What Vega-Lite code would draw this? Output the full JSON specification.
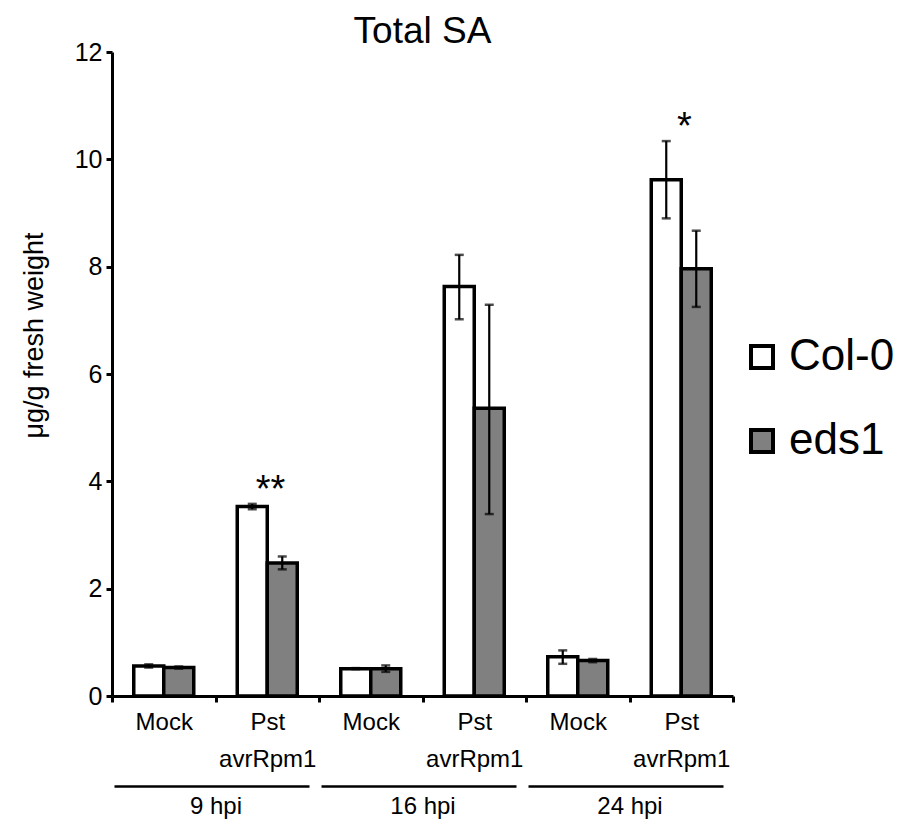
{
  "$schema": "https://vega.github.io/schema/vega-lite/v6.json",
  "width": 621,
  "height": 644,
  "autosize": "none",
  "padding": {"left": 112, "top": 52, "right": 165, "bottom": 127},
  "background": "white",
  "title": {
    "text": "Total SA",
    "font": "Liberation Sans",
    "fontSize": 37,
    "fontWeight": "normal",
    "color": "black",
    "anchor": "middle",
    "dy": 15
  },
  "config": {
    "font": "Liberation Sans",
    "view": {"stroke": null},
    "axis": {"grid": false, "domainColor": "black", "tickColor": "black", "labelColor": "black", "titleColor": "black", "labelFontWeight": "normal", "titleFontWeight": "normal"}
  },
  "data": {
    "values": [
      {"cond": "9 hpi Mock", "time": "9 hpi", "treatment": "Mock", "genotype": "Col-0", "value": 0.56, "lo": 0.53, "hi": 0.59, "sig": ""},
      {"cond": "9 hpi Mock", "time": "9 hpi", "treatment": "Mock", "genotype": "eds1", "value": 0.53, "lo": 0.51, "hi": 0.55, "sig": ""},
      {"cond": "9 hpi Pst", "time": "9 hpi", "treatment": "Pst", "genotype": "Col-0", "value": 3.53, "lo": 3.48, "hi": 3.58, "sig": "**"},
      {"cond": "9 hpi Pst", "time": "9 hpi", "treatment": "Pst", "genotype": "eds1", "value": 2.48, "lo": 2.36, "hi": 2.6, "sig": ""},
      {"cond": "16 hpi Mock", "time": "16 hpi", "treatment": "Mock", "genotype": "Col-0", "value": 0.51, "lo": 0.5, "hi": 0.52, "sig": ""},
      {"cond": "16 hpi Mock", "time": "16 hpi", "treatment": "Mock", "genotype": "eds1", "value": 0.51, "lo": 0.45, "hi": 0.57, "sig": ""},
      {"cond": "16 hpi Pst", "time": "16 hpi", "treatment": "Pst", "genotype": "Col-0", "value": 7.63, "lo": 7.02, "hi": 8.22, "sig": ""},
      {"cond": "16 hpi Pst", "time": "16 hpi", "treatment": "Pst", "genotype": "eds1", "value": 5.36, "lo": 3.39, "hi": 7.29, "sig": ""},
      {"cond": "24 hpi Mock", "time": "24 hpi", "treatment": "Mock", "genotype": "Col-0", "value": 0.73, "lo": 0.6, "hi": 0.85, "sig": ""},
      {"cond": "24 hpi Mock", "time": "24 hpi", "treatment": "Mock", "genotype": "eds1", "value": 0.66, "lo": 0.63, "hi": 0.69, "sig": ""},
      {"cond": "24 hpi Pst", "time": "24 hpi", "treatment": "Pst", "genotype": "Col-0", "value": 9.62, "lo": 8.9, "hi": 10.34, "sig": "*"},
      {"cond": "24 hpi Pst", "time": "24 hpi", "treatment": "Pst", "genotype": "eds1", "value": 7.96, "lo": 7.25, "hi": 8.67, "sig": ""}
    ]
  },
  "layer": [
    {
      "encoding": {
        "x": {
          "field": "cond", "type": "nominal",
          "scale": {"domain": ["9 hpi Mock", "9 hpi Pst", "16 hpi Mock", "16 hpi Pst", "24 hpi Mock", "24 hpi Pst"], "paddingInner": 0, "paddingOuter": 0},
          "axis": {
            "title": null, "orient": "bottom", "labelAngle": 0,
            "labelExpr": "test(/Mock/, datum.label) ? 'Mock' : (test(/Pst/, datum.label) ? ['Pst', 'avrRpm1'] : '')",
            "labelFontSize": 24, "labelLineHeight": 37, "labelBaseline": "top",
            "labelPadding": 8, "tickBand": "extent", "tickSize": 6, "tickWidth": 3,
            "domainWidth": 3, "labelFont": "Liberation Sans"
          }
        },
        "xOffset": {"field": "genotype", "type": "nominal", "scale": {"domain": ["Col-0", "eds1"], "paddingInner": 0, "paddingOuter": 0.725}}
      },
      "layer": [
        {
          "mark": {"type": "bar", "stroke": "black", "strokeWidth": 3.5},
          "encoding": {
            "y": {
              "field": "value", "type": "quantitative", "title": "μg/g fresh weight",
              "scale": {"domain": [0, 12], "nice": false, "zero": true},
              "axis": {
                "values": [0, 2, 4, 6, 8, 10, 12], "format": "d", "labelFontSize": 25, "tickSize": 6, "tickWidth": 3,
                "domainWidth": 3, "labelPadding": 4, "titleFontSize": 27,
                "titleAngle": -90, "titleBaseline": "middle", "titleX": -78, "titleY": 283, "titleAlign": "center"
              }
            },
            "fill": {
              "field": "genotype", "type": "nominal",
              "scale": {"domain": ["Col-0", "eds1"], "range": ["white", "#808080"]},
              "legend": {
                "title": null, "orient": "none", "legendX": 628, "legendY": 283,
                "symbolType": "square", "symbolSize": 484, "symbolStrokeColor": "black", "symbolStrokeWidth": 4,
                "labelFontSize": 44, "labelColor": "black", "labelOffset": 5, "rowPadding": 40, "labelFont": "Liberation Sans"
              }
            }
          }
        },
        {
          "mark": {"type": "rule", "color": "black", "strokeWidth": 2.2},
          "encoding": {
            "y": {"field": "lo", "type": "quantitative", "title": "μg/g fresh weight"},
            "y2": {"field": "hi"}
          }
        },
        {
          "mark": {"type": "tick", "color": "black", "size": 9, "thickness": 2.5},
          "encoding": {"y": {"field": "lo", "type": "quantitative", "title": "μg/g fresh weight"}}
        },
        {
          "mark": {"type": "tick", "color": "black", "size": 9, "thickness": 2.5},
          "encoding": {"y": {"field": "hi", "type": "quantitative", "title": "μg/g fresh weight"}}
        }
      ]
    },
    {
      "transform": [{"filter": "datum.genotype === 'Col-0'"}],
      "mark": {"type": "text", "fontSize": 38, "color": "black", "baseline": "alphabetic", "dy": -2, "dx": 55, "font": "Liberation Sans"},
      "encoding": {
        "x": {
          "field": "time", "type": "nominal",
          "scale": {"domain": ["9 hpi", "16 hpi", "24 hpi"], "paddingInner": 0, "paddingOuter": 0},
          "axis": {
            "title": null, "orient": "bottom", "offset": 90, "labelAngle": 0, "ticks": false,
            "labelFontSize": 24, "labelPadding": 8, "labelBaseline": "top",
            "domainWidth": 2.5, "domainDash": [195, 12], "domainDashOffset": 205, "labelFont": "Liberation Sans"
          }
        },
        "y": {"field": "hi", "type": "quantitative", "title": "μg/g fresh weight"},
        "text": {"field": "sig"}
      }
    }
  ],
  "resolve": {"scale": {"x": "independent", "xOffset": "independent"}, "axis": {"x": "independent"}}
}
